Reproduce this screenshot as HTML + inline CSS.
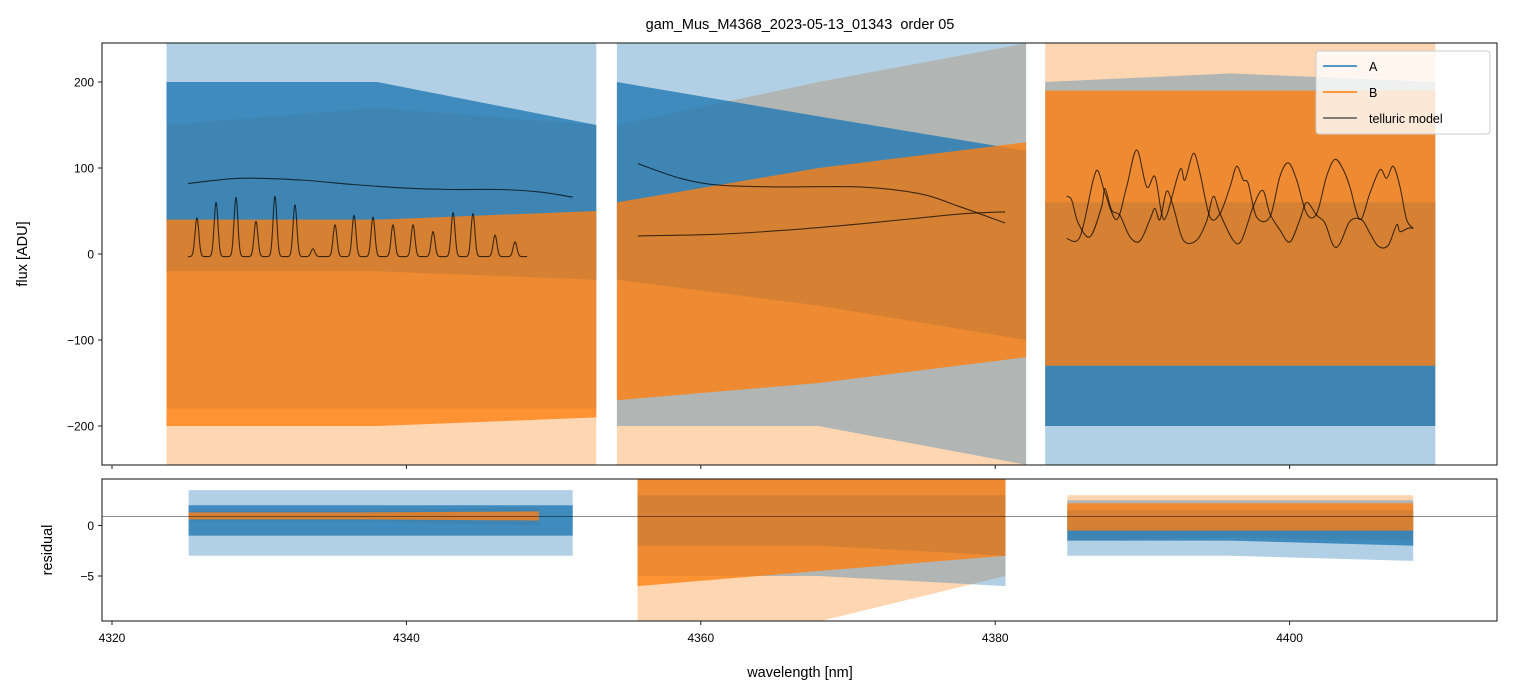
<!DOCTYPE html>
<html><head><meta charset="utf-8">
<style>
html,body{margin:0;padding:0;background:#fff;}
svg{display:block;font-family:"Liberation Sans","DejaVu Sans",sans-serif;}
</style></head>
<body>
<svg id="chart" width="1513" height="696" viewBox="0 0 1513 696" xmlns="http://www.w3.org/2000/svg">
<defs>
<clipPath id="clipTop"><rect x="102" y="43" width="1395" height="422"/></clipPath>
<clipPath id="clipBot"><rect x="102" y="479" width="1395" height="142"/></clipPath>
</defs>
<text x="800" y="29" text-anchor="middle" font-size="14.5" style="white-space:pre">gam_Mus_M4368_2023-05-13_01343  order 05</text>
<g id="topMarks" clip-path="url(#clipTop)"></g>
<g id="botMarks" clip-path="url(#clipBot)"></g>
<rect x="102" y="43" width="1395" height="422" fill="none" stroke="#222" stroke-width="1.1"/>
<rect x="102" y="479" width="1395" height="142" fill="none" stroke="#222" stroke-width="1.1"/>
<g id="axes"></g>
<text transform="translate(27,254) rotate(-90)" text-anchor="middle" font-size="14.5">flux [ADU]</text>
<text transform="translate(52,550) rotate(-90)" text-anchor="middle" font-size="14.5">residual</text>
<text x="800" y="677" text-anchor="middle" font-size="14.5">wavelength [nm]</text>
<g>
<rect x="1316" y="51" width="174" height="83" rx="3" fill="#fff" fill-opacity="0.8" stroke="#ccc"/>
<line x1="1323" y1="66" x2="1357" y2="66" stroke="#1f77b4" stroke-width="1.5"/>
<text x="1369" y="71" font-size="12.5">A</text>
<line x1="1323" y1="92" x2="1357" y2="92" stroke="#ff7f0e" stroke-width="1.5"/>
<text x="1369" y="97" font-size="12.5">B</text>
<line x1="1323" y1="118" x2="1357" y2="118" stroke="#555" stroke-width="1.5"/>
<text x="1369" y="123" font-size="12.5">telluric model</text>
</g>
</svg>
<script>
// ---- axis ticks ----
const xTicks = [4320, 4340, 4360, 4380, 4400];
const yTicksTop = [200, 100, 0, -100, -200];
const yTickLabelsTop = ["200", "100", "0", "\u2212100", "\u2212200"];
const yTicksBot = [0, -5];
const yTickLabelsBot = ["0", "\u22125"];

// ---- flux bands per segment (wavelength nodes, core/outer envelopes) ----
const segLam = [[4323.7, 4338, 4352.9], [4354.3, 4368, 4382.1], [4383.4, 4396, 4409.9]];
const aCoreHi = [[200, 200, 150], [200, 160, 120], [60, 60, 60]];
const aCoreLo = [[-20, -20, -30], [-30, -60, -100], [-200, -200, -200]];
const aOutHi = [[245, 245, 245], [245, 245, 245], [200, 210, 200]];
const aOutLo = [[-180, -180, -180], [-200, -200, -245], [-245, -245, -245]];
const bCoreHi = [[40, 40, 50], [60, 100, 130], [190, 190, 190]];
const bCoreLo = [[-200, -200, -190], [-170, -150, -120], [-130, -130, -130]];
const bOutHi = [[150, 170, 150], [150, 200, 245], [245, 245, 245]];
const bOutLo = [[-245, -245, -245], [-245, -245, -245], [-200, -200, -200]];

// ---- residual bands ----
const rLam = [[4325.2, 4338, 4351.3], [4355.7, 4368, 4380.7], [4384.9, 4396, 4408.4]];
const raCoreHi = [[2.0, 2.0, 2.0], [3, 3, 3], [1.5, 1.5, 1.5]];
const raCoreLo = [[-1.0, -1.0, -1.0], [-2, -2, -3], [-1.5, -1.5, -2.0]];
const raOutHi = [[3.5, 3.5, 3.5], [4.8, 4.8, 4.8], [2.5, 2.5, 2.5]];
const raOutLo = [[-3.0, -3.0, -3.0], [-5, -5, -6], [-3, -3, -3.5]];
const rbLam = [[4325.2, 4337, 4349.0], [4355.7, 4368, 4380.7], [4384.9, 4396, 4408.4]];
const rbCoreHi = [[1.3, 1.3, 1.4], [4.8, 4.8, 4.8], [2.2, 2.2, 2.2]];
const rbCoreLo = [[0.6, 0.6, 0.5], [-6, -4.5, -3], [-0.5, -0.5, -0.5]];
const rbOutHi = [[1.5, 1.5, 1.8], [4.8, 4.8, 4.8], [3, 3, 3]];
const rbOutLo = [[0.4, 0.4, 0.0], [-9.5, -9.5, -5], [-1.5, -1.2, -1.5]];
const residRef = 0.9;

// ---- telluric model curves ----
const t1Lam = [4325.16, 4328.7, 4332.8, 4336.2, 4339.6, 4343.0, 4346.4, 4349.1, 4351.3];
const t1Val = [82, 88, 86, 81, 77, 75, 75, 72, 66];
const t2Centers = [4325.77, 4327.07, 4328.42, 4329.78, 4331.07, 4332.43, 4333.65, 4335.15, 4336.44, 4337.73, 4339.09, 4340.45, 4341.81, 4343.17, 4344.52, 4346.02, 4347.38];
const t2Heights = [45, 63, 69, 41, 70, 60, 9, 37, 48, 46, 37, 37, 29, 51, 50, 25, 17];
const t2Range = [4325.16, 4348.2];
const t2Base = -3;
const t3Lam = [4355.73, 4358.6, 4361.3, 4365.4, 4370.8, 4374.9, 4377.6, 4380.67];
const t3Val = [105, 88, 80, 78, 78, 70, 55, 36];
const t4Lam = [4355.73, 4361.3, 4366, 4370.8, 4374.9, 4378, 4380.67];
const t4Val = [21, 23, 28, 35, 42, 47, 49];
const t5Lam = [4384.85, 4385.76, 4386.66, 4387.0, 4387.46, 4388.25, 4388.93, 4389.61, 4390.29, 4390.85, 4391.31, 4391.65, 4392.55, 4392.89, 4393.46, 4393.91, 4394.59, 4395.27, 4395.95, 4396.40, 4396.85, 4397.19, 4397.76, 4398.66, 4399.34, 4399.91, 4400.48, 4401.16, 4401.84, 4402.51, 4403.08, 4403.65, 4404.10, 4404.78, 4405.46, 4406.14, 4406.59, 4407.04, 4407.50, 4407.95, 4408.40];
const t5Val = [18, 20, 86, 96, 71, 40, 78, 121, 78, 90, 47, 45, 98, 86, 117, 94, 43, 47, 78, 102, 86, 82, 43, 43, 90, 106, 86, 47, 47, 90, 110, 98, 78, 40, 71, 98, 88, 102, 78, 40, 30];
const t6Lam = [4384.85, 4385.19, 4385.64, 4386.44, 4387.23, 4387.46, 4387.91, 4388.47, 4389.15, 4389.83, 4390.51, 4390.85, 4391.19, 4391.65, 4392.10, 4392.78, 4393.68, 4394.36, 4394.82, 4395.27, 4396.17, 4396.74, 4397.53, 4398.17, 4398.66, 4399.34, 4400.02, 4400.70, 4401.16, 4401.84, 4402.40, 4402.97, 4403.42, 4404.10, 4404.89, 4405.46, 4406.03, 4406.70, 4407.27, 4407.50, 4408.06, 4408.40];
const t6Val = [67, 63, 36, 20, 55, 76, 51, 45, 20, 15, 40, 53, 40, 73, 55, 16, 16, 38, 67, 47, 16, 16, 55, 74, 47, 28, 14, 40, 60, 45, 36, 10, 12, 38, 40, 24, 9, 10, 34, 26, 30, 30];

const NS = "http://www.w3.org/2000/svg";
const X0 = 4319.32, X1 = 4414.09, PX0 = 102, PX1 = 1497;
function sx(l) { return PX0 + (l - X0) / (X1 - X0) * (PX1 - PX0); }
function syTop(v) { return 254 - v * 0.86; }
function syBot(v) { return 525.5 - v * 10.1; }

function mk(tag, attrs, parent) {
  const el = document.createElementNS(NS, tag);
  for (const k in attrs) el.setAttribute(k, attrs[k]);
  parent.appendChild(el);
  return el;
}
function bandPts(lam, hi, lo, sy) {
  const p = [];
  for (let i = 0; i < lam.length; i++) p.push(sx(lam[i]).toFixed(1) + "," + sy(hi[i]).toFixed(1));
  for (let i = lam.length - 1; i >= 0; i--) p.push(sx(lam[i]).toFixed(1) + "," + sy(lo[i]).toFixed(1));
  return p.join(" ");
}
function smoothPath(lam, val, sy) {
  const P = lam.map((l, i) => [sx(l), sy(val[i])]);
  let d = "M" + P[0][0].toFixed(1) + "," + P[0][1].toFixed(1);
  for (let i = 0; i < P.length - 1; i++) {
    const p0 = P[Math.max(0, i - 1)], p1 = P[i], p2 = P[i + 1], p3 = P[Math.min(P.length - 1, i + 2)];
    const c1x = p1[0] + (p2[0] - p0[0]) / 6, c1y = p1[1] + (p2[1] - p0[1]) / 6;
    const c2x = p2[0] - (p3[0] - p1[0]) / 6, c2y = p2[1] - (p3[1] - p1[1]) / 6;
    d += " C" + c1x.toFixed(1) + "," + c1y.toFixed(1) + " " + c2x.toFixed(1) + "," + c2y.toFixed(1) + " " + p2[0].toFixed(1) + "," + p2[1].toFixed(1);
  }
  return d;
}

const topG = document.getElementById("topMarks");
const botG = document.getElementById("botMarks");

function drawBands(g, sy, lamArr, aHi, aLo, aOHi, aOLo, bLamArr, bHi, bLo, bOHi, bOLo, prefix) {
  for (let s = 0; s < 3; s++) {
    const el = mk("polygon", {points: bandPts(bLamArr[s], bOHi[s], bOLo[s], sy), fill: "#ff7f0e", "fill-opacity": 0.32}, g);
    
    
  }
  for (let s = 0; s < 3; s++) {
    const el = mk("polygon", {points: bandPts(lamArr[s], aOHi[s], aOLo[s], sy), fill: "#1f77b4", "fill-opacity": 0.35}, g);
    
    
  }
  for (let s = 0; s < 3; s++) {
    const el = mk("polygon", {points: bandPts(lamArr[s], aHi[s], aLo[s], sy), fill: "#1f77b4", "fill-opacity": 0.78}, g);
    
    
  }
  for (let s = 0; s < 3; s++) {
    const el = mk("polygon", {points: bandPts(bLamArr[s], bHi[s], bLo[s], sy), fill: "#ff7f0e", "fill-opacity": 0.78}, g);
    
    
  }
}
drawBands(topG, syTop, segLam, aCoreHi, aCoreLo, aOutHi, aOutLo, segLam, bCoreHi, bCoreLo, bOutHi, bOutLo, 'flux');

// telluric model
function tline(lam, val, name) {
  const el = mk("path", {d: smoothPath(lam, val, syTop), fill: "none", stroke: "#000", "stroke-opacity": 0.7, "stroke-width": 1.1}, topG);
  
  
}
tline(t1Lam, t1Val, 'telluric-model-seg1-continuum');
{
  const lam = [], val = [];
  for (let l = t2Range[0]; l <= t2Range[1]; l += 0.03) {
    let v = t2Base;
    for (let i = 0; i < t2Centers.length; i++) {
      const d = (l - t2Centers[i]) / 0.13;
      v += t2Heights[i] * Math.exp(-0.5 * d * d);
    }
    lam.push(l); val.push(v);
  }
  tline(lam, val, 'telluric-model-seg1-lines');
}
tline(t3Lam, t3Val, 'telluric-model-seg2-upper');
tline(t4Lam, t4Val, 'telluric-model-seg2-lower');
tline(t5Lam, t5Val, 'telluric-model-seg3-a');
tline(t6Lam, t6Val, 'telluric-model-seg3-b');

drawBands(botG, syBot, rLam, raCoreHi, raCoreLo, raOutHi, raOutLo, rbLam, rbCoreHi, rbCoreLo, rbOutHi, rbOutLo, 'residual');
{
  const el = mk("line", {x1: 102, x2: 1497, y1: syBot(residRef), y2: syBot(residRef), stroke: "#000", "stroke-opacity": 0.6, "stroke-width": 0.8}, botG);
  
  
}

// axes ticks
const ax = document.getElementById("axes");
xTicks.forEach(t => {
  const x = sx(t);
  let el = mk("line", {x1: x, x2: x, y1: 465, y2: 469, stroke: "#222", "stroke-width": 1}, ax);
  
  
  el = mk("line", {x1: x, x2: x, y1: 621, y2: 625, stroke: "#222", "stroke-width": 1}, ax);
  
  
  el = mk("text", {x: x, y: 642, "text-anchor": "middle", "font-size": 12}, ax);
  el.textContent = String(t);
  
  
});
yTicksTop.forEach((t, i) => {
  const y = syTop(t);
  let el = mk("line", {x1: 98, x2: 102, y1: y, y2: y, stroke: "#222", "stroke-width": 1}, ax);
  
  
  el = mk("text", {x: 94, y: y + 4.5, "text-anchor": "end", "font-size": 12}, ax);
  el.textContent = yTickLabelsTop[i];
  
  
});
yTicksBot.forEach((t, i) => {
  const y = syBot(t);
  let el = mk("line", {x1: 98, x2: 102, y1: y, y2: y, stroke: "#222", "stroke-width": 1}, ax);
  
  
  el = mk("text", {x: 94, y: y + 4.5, "text-anchor": "end", "font-size": 12}, ax);
  el.textContent = yTickLabelsBot[i];
  
  
});
</script>
</body></html>
